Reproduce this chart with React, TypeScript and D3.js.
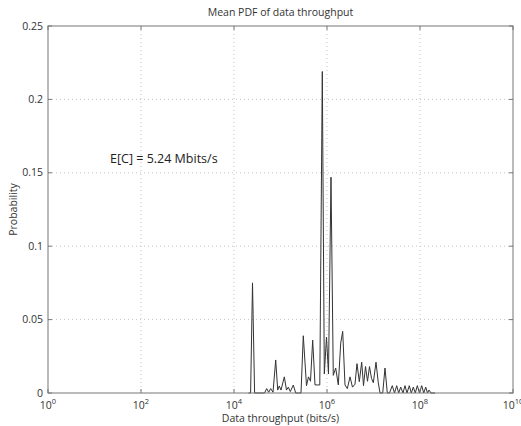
import React from "react";
import * as d3 from "d3";

// log10 of throughput (bits/s) and the probability read at each point
const logThroughput = [
  4.312, 4.357, 4.398, 4.443, 4.602, 4.656, 4.703, 4.746, 4.789, 4.839,
  4.897, 4.94, 4.974, 5.011, 5.082, 5.129, 5.168, 5.211, 5.275, 5.327,
  5.387, 5.441, 5.49, 5.559, 5.602, 5.645, 5.692, 5.742, 5.789, 5.845,
  5.899, 5.942, 5.989, 6.032, 6.086, 6.135, 6.187, 6.243, 6.295, 6.338,
  6.387, 6.437, 6.495, 6.548, 6.602, 6.645, 6.695, 6.746, 6.785, 6.828,
  6.871, 6.914, 6.957, 6.996, 7.054, 7.103, 7.14, 7.198, 7.247, 7.297,
  7.344, 7.404, 7.452, 7.499, 7.542, 7.585, 7.634, 7.677, 7.72, 7.77,
  7.813, 7.856, 7.899, 7.942, 7.989, 8.037, 8.08, 8.123, 8.161, 8.194,
  8.237, 8.323,
];
const probability = [
  0, 0, 0.075, 0, 0, 0, 0.003, 0.0005, 0.003, 0.0005,
  0.0225, 0.002, 0.0048, 0.002, 0.011, 0.002, 0.004, 0.001, 0.0054, 0,
  0, 0, 0.039, 0.005, 0.011, 0.008, 0.036, 0.0055, 0.0055, 0.0055,
  0.219, 0.013, 0.038, 0.013, 0.147, 0.012, 0.017, 0.0055, 0.034, 0.042,
  0.0055, 0.003, 0.011, 0.004, 0.006, 0.02, 0.0077, 0.021, 0.005, 0.018,
  0.008, 0.018, 0.01, 0.007, 0.021, 0.007, 0, 0, 0.017, 0,
  0, 0.005, 0, 0.005, 0, 0.004, 0, 0.005, 0, 0.005,
  0, 0.004, 0, 0.005, 0, 0.005, 0, 0.004, 0, 0.002,
  0, 0,
];

const xTickExps = [0, 2, 4, 6, 8, 10];
const yTicks = [0, 0.05, 0.1, 0.15, 0.2, 0.25];
const yTickLabels = ["0", "0.05", "0.1", "0.15", "0.2", "0.25"];

const W = 521;
const H = 426;
const margin = { left: 48, right: 8, top: 26, bottom: 33 };
const FONT = "'Open Sans', 'Noto Sans', sans-serif";

const App = () => {
  const svgRef = React.useRef<SVGSVGElement | null>(null);

  React.useEffect(() => {
    const width = W - margin.left - margin.right;
    const height = H - margin.top - margin.bottom;

    const x = d3.scaleLog().domain([1, 1e10]).range([0, width]);
    const y = d3.scaleLinear().domain([0, 0.25]).range([height, 0]);

    const svgEl = d3.select(svgRef.current);
    svgEl.selectAll("*").remove();
    svgEl.append("rect").attr("width", W).attr("height", H).attr("fill", "#fff");

    const svg = svgEl
      .append("g")
      .attr("transform", `translate(${margin.left},${margin.top})`);

    // grid
    const inner = xTickExps.slice(1, -1);
    svg
      .selectAll(".vgrid")
      .data(inner)
      .enter()
      .append("line")
      .attr("x1", (d) => x(Math.pow(10, d)))
      .attr("x2", (d) => x(Math.pow(10, d)))
      .attr("y1", 0)
      .attr("y2", height)
      .attr("stroke", "#c4c4c4")
      .attr("stroke-dasharray", "1,3");
    svg
      .selectAll(".hgrid")
      .data(yTicks.slice(1, -1))
      .enter()
      .append("line")
      .attr("x1", 0)
      .attr("x2", width)
      .attr("y1", (d) => y(d))
      .attr("y2", (d) => y(d))
      .attr("stroke", "#c4c4c4")
      .attr("stroke-dasharray", "1,3");

    // data line
    const pts = logThroughput.map((e, i) => [Math.pow(10, e), probability[i]] as [number, number]);
    svg
      .append("path")
      .datum(pts)
      .attr("fill", "none")
      .attr("stroke", "#333")
      .attr("stroke-width", 1)
      .attr(
        "d",
        d3
          .line<[number, number]>()
          .x((d) => x(d[0]))
          .y((d) => y(d[1]))
      );

    // box + inward ticks
    svg
      .append("rect")
      .attr("width", width)
      .attr("height", height)
      .attr("fill", "none")
      .attr("stroke", "#777");
    const tl = 4;
    xTickExps.forEach((e) => {
      const px = x(Math.pow(10, e));
      svg.append("line").attr("x1", px).attr("x2", px).attr("y1", height).attr("y2", height - tl).attr("stroke", "#777");
      svg.append("line").attr("x1", px).attr("x2", px).attr("y1", 0).attr("y2", tl).attr("stroke", "#777");
    });
    yTicks.forEach((v) => {
      const py = y(v);
      svg.append("line").attr("x1", 0).attr("x2", tl).attr("y1", py).attr("y2", py).attr("stroke", "#777");
      svg.append("line").attr("x1", width).attr("x2", width - tl).attr("y1", py).attr("y2", py).attr("stroke", "#777");
    });

    // y tick labels
    svg
      .selectAll(".ylab")
      .data(yTicks)
      .enter()
      .append("text")
      .attr("x", -5)
      .attr("y", (d) => y(d))
      .attr("dy", "0.35em")
      .attr("text-anchor", "end")
      .attr("font-family", FONT)
      .attr("font-size", 10.5)
      .attr("fill", "#333")
      .text((d, i) => yTickLabels[i]);

    // x tick labels 10^n
    xTickExps.forEach((e) => {
      const t = svg
        .append("text")
        .attr("x", x(Math.pow(10, e)))
        .attr("y", height + 16)
        .attr("text-anchor", "middle")
        .attr("font-family", FONT)
        .attr("font-size", 10.5)
        .attr("fill", "#333");
      t.append("tspan").text("10");
      t.append("tspan").attr("dy", -5).attr("font-size", 7.5).text(String(e));
    });

    // labels
    svg
      .append("text")
      .attr("x", width / 2)
      .attr("y", height + 29)
      .attr("text-anchor", "middle")
      .attr("font-family", FONT)
      .attr("font-size", 10.5)
      .attr("fill", "#333")
      .text("Data throughput (bits/s)");
    svg
      .append("text")
      .attr("transform", `translate(${-31},${height / 2}) rotate(-90)`)
      .attr("text-anchor", "middle")
      .attr("font-family", FONT)
      .attr("font-size", 10.5)
      .attr("fill", "#333")
      .text("Probability");
    svg
      .append("text")
      .attr("x", width / 2)
      .attr("y", -10)
      .attr("text-anchor", "middle")
      .attr("font-family", FONT)
      .attr("font-size", 10.5)
      .attr("fill", "#333")
      .text("Mean PDF of data throughput");
    svg
      .append("text")
      .attr("x", 110 - margin.left)
      .attr("y", 163 - margin.top)
      .attr("font-family", FONT)
      .attr("font-size", 12.5)
      .attr("fill", "#222")
      .text("E[C] = 5.24 Mbits/s");
  }, []);

  return (
    <svg
      ref={svgRef}
      width={W}
      height={H}
      style={{ position: "absolute", left: 0, top: 0 }}
    />
  );
};

export default App;
